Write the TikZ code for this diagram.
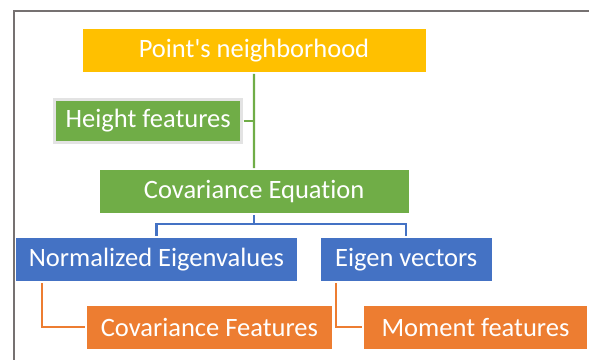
\documentclass[tikz,border=0pt]{standalone}
\usepackage{fontspec}
\setmainfont[Ligatures={NoCommon}]{Carlito}
\usetikzlibrary{positioning, calc}
\definecolor{hoodgold}{HTML}{FFC000}
\definecolor{featgreen}{HTML}{70AD47}
\definecolor{eigblue}{HTML}{4472C4}
\definecolor{momorange}{HTML}{ED7D31}
\definecolor{framegray}{HTML}{767171}
\definecolor{lgray}{HTML}{E3E3E3}

\begin{document}
\begin{tikzpicture}[
      x=1pt, y=-1pt,
      every node/.style={font=\fontsize{26.5}{30}\selectfont, text=white},
      block/.style={inner sep=0pt, outer sep=2pt, minimum height=43pt, align=center},
      link/.style={line width=2.2pt},
    ]
    \useasboundingbox (0,0) rectangle (589,360);
    \draw[framegray, line width=2pt] (589,10.7) -- (14,10.7) -- (14,360);

    \node[block, fill=hoodgold, minimum width=343pt] (hood) at (254,50.4)
      {Point\textquotesingle s neighborhood};
    \node[block, fill=featgreen, minimum width=187pt, draw=lgray, line width=2.5pt,
          minimum height=43pt] (height) at (148.2,120.8)
      {Height features};
    \node[block, fill=featgreen, minimum width=309pt] (coveq) at (254.1,191.6)
      {Covariance Equation};

    \node[block, fill=eigblue, minimum width=281pt] (eigval) at (156.4,259.5)
      {Normalized Eigenvalues};
    \node[block, fill=eigblue, minimum width=171pt] (eigvec) at (406.2,259.5)
      {Eigen vectors};

    \node[block, fill=momorange, minimum width=245pt] (covfeat) at (209.4,327.2)
      {Covariance Features};
    \node[block, fill=momorange, minimum width=223pt] (moment) at (475.5,327.2)
      {Moment features};

    % neighbourhood -> covariance, height features on the side
    \draw[link, featgreen] (hood) -- (coveq);
    \draw[link, featgreen] (height.east) -- (height.east -| hood.south);

    % covariance -> eigen decomposition
    \coordinate (split) at ($(coveq.south)+(0,9)$);
    \draw[link, eigblue] (coveq.south) -- (split) -| (eigval.north);
    \draw[link, eigblue] (split) -| (eigvec.north);

    % eigen results -> features
    \draw[link, momorange] ([xshift=28pt]eigval.south west) |- (covfeat.west);
    \draw[link, momorange] ([xshift=17.5pt]eigvec.south west) |- (moment.west);
  \end{tikzpicture}
\end{document}
